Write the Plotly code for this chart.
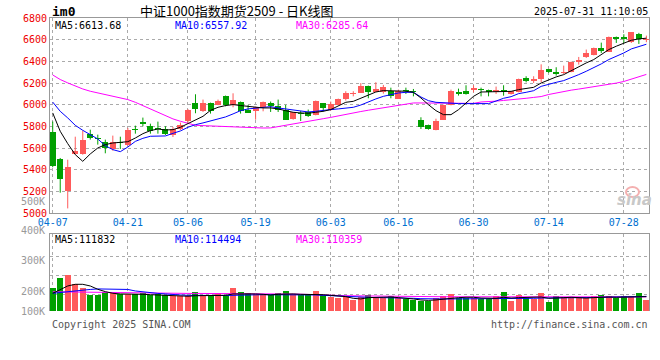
import plotly.graph_objects as go

# ---------------- data ----------------
dates = ["04-07","04-08","04-09","04-10","04-11","04-14","04-15","04-16","04-17","04-18",
         "04-21","04-22","04-23","04-24","04-25","04-28","04-29","04-30",
         "05-06","05-07","05-08","05-09","05-12","05-13","05-14","05-15","05-16",
         "05-19","05-20","05-21","05-22","05-23","05-26","05-27","05-28","05-29","05-30",
         "06-03","06-04","06-05","06-06","06-09","06-10","06-11","06-12","06-13",
         "06-16","06-17","06-18","06-19","06-20","06-23","06-24","06-25","06-26","06-27",
         "06-30","07-01","07-02","07-03","07-04","07-07","07-08","07-09","07-10","07-11",
         "07-14","07-15","07-16","07-17","07-18","07-21","07-22","07-23","07-24","07-25",
         "07-28","07-29","07-30","07-31"]
tick_dates = ["04-07","04-21","05-06","05-19","06-03","06-16","06-30","07-14","07-28"]

open_ = [5752,5503,5202,5543,5550,5728,5697,5657,5593,5654,
         5626,5771,5845,5808,5786,5780,5722,5774,5854,6020,
         5940,6020,6002,6085,6002,6030,5953,5940,5983,6014,
         5993,5956,5873,5925,5931,5909,6014,5953,6002,6057,
         6100,6109,6177,6118,6122,6125,6057,6140,6125,5863,
         5817,5765,5863,5995,6115,6125,6140,6146,6140,6115,
         6140,6103,6115,6244,6217,6241,6330,6303,6290,6300,
         6398,6441,6463,6527,6490,6629,6623,6583,6650,6598]
high = [5846,5510,5494,5706,5762,5771,5725,5679,5716,5706,
        5787,5808,5882,5826,5845,5802,5796,5836,5960,6097,
        6048,6020,6048,6085,6106,6030,5999,5983,6030,6030,
        6048,5999,5934,5943,5956,6039,6014,6030,6057,6125,
        6125,6200,6177,6208,6183,6158,6140,6158,6146,5885,
        5817,5872,6001,6140,6149,6180,6180,6158,6140,6168,
        6180,6124,6241,6263,6263,6373,6330,6346,6361,6398,
        6441,6509,6527,6573,6629,6629,6650,6669,6663,6638]
low = [5425,5190,5045,5543,5540,5679,5633,5553,5577,5593,
       5623,5734,5802,5734,5734,5722,5703,5768,5833,5922,
       5934,5919,5996,5986,5977,5919,5928,5863,5940,5934,
       5934,5863,5863,5851,5888,5903,5937,5946,5996,6039,
       6078,6109,6060,6118,6103,6060,6057,6100,6078,5777,
       5771,5765,5863,5995,6085,6094,6115,6078,6078,6100,
       6084,6094,6115,6207,6201,6207,6294,6269,6284,6300,
       6370,6432,6456,6478,6490,6570,6570,6570,6561,6577]
close = [5433,5313,5430,5577,5679,5691,5682,5602,5660,5645,
         5771,5765,5820,5762,5774,5734,5780,5811,5956,5959,
         6020,5940,6039,5996,6048,5946,5928,5983,6030,5993,
         5950,5863,5934,5915,5894,6039,5971,6005,6057,6106,
         6106,6177,6115,6149,6162,6085,6125,6131,6118,5795,
         5780,5854,6001,6125,6097,6103,6158,6134,6118,6140,
         6124,6124,6241,6217,6238,6324,6300,6284,6303,6398,
         6410,6475,6527,6500,6629,6607,6607,6669,6607,6610]

ma5 = [5925,5756,5642,5541,5479,5547,5602,5633,5648,5654,
       5660,5694,5734,5762,5777,5768,5771,5793,5826,5855,
       5894,5949,5977,5993,6002,5993,5986,5977,5971,5971,
       5962,5946,5931,5925,5922,5931,5940,5956,5986,6023,
       6032,6063,6094,6118,6131,6131,6125,6125,6115,6063,
       6001,5946,5909,5909,5955,6017,6078,6118,6118,6118,
       6124,6124,6140,6149,6161,6201,6232,6257,6278,6315,
       6355,6386,6417,6463,6509,6540,6571,6595,6607,6614]
ma10 = [6025,5940,5879,5811,5765,5725,5685,5623,5587,5568,
        5611,5663,5691,5710,5713,5713,5737,5759,5793,5817,
        5833,5851,5870,5888,5916,5946,5962,5968,5980,5983,
        5971,5962,5956,5946,5934,5940,5950,5956,5962,5971,
        5977,5998,6029,6054,6078,6094,6109,6115,6115,6072,
        6038,6023,6017,6011,6011,6011,6011,6011,6011,6035,
        6060,6075,6103,6115,6130,6170,6192,6207,6223,6247,
        6278,6309,6340,6377,6417,6447,6478,6515,6533,6558]
ma30 = [6275,6233,6202,6171,6146,6125,6110,6100,6085,6070,
        6048,6023,5993,5962,5934,5900,5870,5848,5830,5811,
        5808,5805,5805,5803,5798,5796,5788,5786,5786,5787,
        5800,5810,5826,5840,5848,5862,5872,5884,5898,5912,
        5930,5938,5950,5960,5977,5985,5995,6005,6017,6017,
        6017,6017,6013,6011,6011,6011,6013,6026,6028,6034,
        6040,6045,6052,6060,6068,6076,6095,6110,6125,6135,
        6145,6155,6165,6175,6188,6200,6215,6235,6255,6280]

volume = [182,260,281,208,182,125,125,148,148,133,
          133,133,138,125,133,125,117,117,117,151,
          125,117,138,125,182,151,138,133,133,125,
          140,158,133,125,125,156,125,112,104,117,
          86,112,125,104,104,117,104,94,86,78,
          78,104,117,133,99,99,104,94,94,117,
          148,78,125,104,94,140,70,117,112,112,
          99,99,117,125,117,99,117,117,140,86]   # thousands
vma5 = [138,164,195,208,208,195,169,151,138,133,
        133,133,130,127,125,122,119,117,115,119,
        119,117,119,122,133,135,135,133,130,125,
        130,133,133,130,130,130,127,122,119,112,
        99,94,104,107,107,109,104,101,94,86,
        83,86,94,101,104,107,107,101,99,99,
        107,101,104,104,104,109,99,104,104,107,
        104,101,104,109,109,107,107,109,112,112]
vma10 = [138,144,152,160,164,168,172,172,172,172,
         168,156,148,140,137,133,127,125,122,121,
         119,119,119,121,122,125,125,126,127,127,
         127,129,127,127,125,125,122,119,117,113,
         109,107,104,104,104,104,104,101,99,96,
         94,94,94,94,94,94,96,96,99,99,
         99,99,99,99,99,101,101,104,104,104,
         104,105,105,107,107,107,109,109,112,114]
vma30 = [150,149,148,147,146,145,144,143,142,142,
         141,140,140,139,139,138,138,138,137,137,
         137,137,137,137,136,136,136,135,135,134,
         134,133,132,131,130,128,126,123,121,119,
         118,117,116,116,115,115,114,114,113,113,
         112,112,111,111,111,110,110,110,109,109,
         109,110,110,110,109,109,110,110,110,109,
         110,110,110,110,110,110,110,110,110,110]

# ---------------- styling ----------------
RED = "#ff5a5a"
GREEN = "#00a000"
MONO = "DejaVu Sans Mono"
W, H = 660, 360
L, R, T, B = 50, 11, 18, 49
PW, PH = W - L - R, H - T - B

def px(x):
    return (x - L) / PW

def py(y):
    return (H - B - y) / PH

idx = list(range(len(dates)))
up = [c >= o for o, c in zip(open_, close)]
colors = [RED if u else GREEN for u in up]
body_base = [min(o, c) for o, c in zip(open_, close)]
body_h = [max(abs(c - o), 8) for o, c in zip(open_, close)]

fig = go.Figure()

# wicks
for flag, col in ((True, RED), (False, GREEN)):
    wx, wy = [], []
    for i in idx:
        if up[i] == flag:
            wx += [i, i, None]
            wy += [low[i], high[i], None]
    fig.add_trace(go.Scatter(x=wx, y=wy, mode="lines", line=dict(color=col, width=1),
                             hoverinfo="skip", showlegend=False, xaxis="x", yaxis="y"))

# bodies
fig.add_trace(go.Bar(x=idx, y=body_h, base=body_base, width=0.8,
                     marker=dict(color=colors, line=dict(width=0)),
                     showlegend=False, xaxis="x", yaxis="y"))

# MA lines
for s, col in ((ma30, "#ff00ff"), (ma10, "#0000ff"), (ma5, "#000000")):
    fig.add_trace(go.Scatter(x=idx, y=s, mode="lines", line=dict(color=col, width=1),
                             showlegend=False, xaxis="x", yaxis="y"))

# volume
fig.add_trace(go.Bar(x=idx, y=[v * 1000 for v in volume], width=0.8,
                     marker=dict(color=colors, line=dict(width=0)),
                     showlegend=False, xaxis="x2", yaxis="y2"))
for s, col in ((vma30, "#ff00ff"), (vma10, "#0000ff"), (vma5, "#000000")):
    fig.add_trace(go.Scatter(x=idx, y=[v * 1000 for v in s], mode="lines",
                             line=dict(color=col, width=1),
                             showlegend=False, xaxis="x2", yaxis="y2"))

tickvals = [dates.index(d) for d in tick_dates]
grid = dict(showgrid=True, gridcolor="#aaaaaa", griddash="dot", gridwidth=1)

fig.update_layout(
    width=W, height=H,
    margin=dict(l=L, r=R, t=T, b=B, autoexpand=False),
    paper_bgcolor="white", plot_bgcolor="white",
    barmode="overlay", bargap=0,
    font=dict(family=MONO, size=10, color="#000"),
    xaxis=dict(domain=[0, 1], anchor="y", range=[-0.36, 79.35],
               tickmode="array", tickvals=tickvals, ticktext=tick_dates,
               tickfont=dict(family=MONO, size=10, color="#0070d0"),
               showline=True, linecolor="#999999", mirror=True, ticks="",
               zeroline=False, **grid),
    yaxis=dict(domain=[py(213.3), 1], anchor="x", range=[5000, 6800],
               tickmode="array", tickvals=list(range(5000, 6801, 200)),
               tickfont=dict(family=MONO, size=10, color="#ee0000"),
               showline=True, linecolor="#999999", mirror=True, ticks="",
               zeroline=False, **grid),
    xaxis2=dict(domain=[0, 1], anchor="y2", matches="x", side="top",
                tickmode="array", tickvals=tickvals, showticklabels=False,
                showline=True, linecolor="#999999", mirror=False, ticks="",
                zeroline=False, **grid),
    yaxis2=dict(domain=[0, py(234)], anchor="x2", range=[0, 600000],
                tickmode="array", tickvals=[125000, 275000, 425000],
                showticklabels=False,
                showline=True, linecolor="#999999", mirror=True, ticks="",
                zeroline=False, **grid),
)

def ann(x, y, text, color="#000", size=10, xanchor="left", family=MONO, **kw):
    fig.add_annotation(x=px(x), y=py(y), xref="paper", yref="paper", text=text,
                       showarrow=False, xanchor=xanchor, yanchor="middle",
                       font=dict(family=family, size=size, color=color), **kw)

ann(50, 11, "<b>im0</b>", size=13)
ann(237, 10, "中证1000指数期货2509 - 日K线图", size=13, xanchor="center",
    family="Noto Sans CJK SC")
ann(650, 12, "2025-07-31 11:10:05", xanchor="right")

ann(53, 25, "MA5:6613.68", color="#000000")
ann(173, 25, "MA10:6557.92", color="#0000ff")
ann(294, 25, "MA30:6285.64", color="#ff00ff")

ann(53, 240, "MA5:111832", color="#000000")
ann(173, 240, "MA10:114494", color="#0000ff")
ann(294, 240, "MA30:110359", color="#ff00ff")

for lab, yy in (("500K", 201), ("400K", 230), ("300K", 260), ("200K", 291), ("100K", 311)):
    ann(47, yy, lab, color="#999999", xanchor="right")

ann(50, 324, "Copyright 2025 SINA.COM", color="#555555")
ann(650, 324, "http://finance.sina.com.cn", color="#555555", xanchor="right")

# sina watermark
ann(634, 200, "<b><i>sina</i></b>", color="#c8c8c8", size=15, xanchor="center",
    family="DejaVu Sans")
fig.add_shape(type="circle", xref="paper", yref="paper",
              x0=px(626), x1=px(639), y0=py(197), y1=py(187),
              line=dict(color="#f4b0b0", width=2), fillcolor="rgba(0,0,0,0)")

fig.write_html("out.html",
               config={"displayModeBar": False, "staticPlot": True},
               post_script="document.body.style.margin='0px';document.body.style.padding='0px';")
